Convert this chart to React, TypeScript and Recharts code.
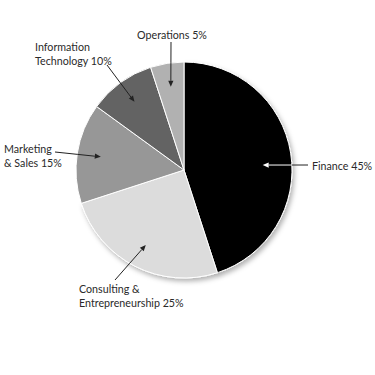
import { PieChart, Pie, Cell } from 'recharts';

const categories = ['Finance', 'Consulting & Entrepreneurship', 'Marketing & Sales', 'Information Technology', 'Operations'];
const shares = [45, 25, 15, 10, 5];
// how each label is broken into lines
const labelLines = [
  ['Finance 45%'],
  ['Consulting &', 'Entrepreneurship 25%'],
  ['Marketing', '& Sales 15%'],
  ['Information', 'Technology 10%'],
  ['Operations 5%'],
];

const COLORS = ['#000000', '#dcdcdc', '#979797', '#636363', '#b1b1b1'];
const ARROW_IN = ['#ffffff', '#222222', '#222222', '#222222', '#222222'];
// only the lower-right slices cast a visible shadow
const SHADOW = [true, true, false, false, false];
const FONT = 'Lato, "Open Sans", sans-serif';

// label placement relative to pie centre: arrow tail, text anchor, tip tweak
const LAYOUT = [
  { tail: [124, -5], text: [128, -5], anchor: 'start', rot: -5.4, r: 0.73 },
  { tail: [-69, 110], text: [-105, 118], anchor: 'start', rot: 0, r: 0.78 },
  { tail: [-129, -18], text: [-180, -22], anchor: 'start', rot: 0, r: 0.78 },
  { tail: [-77, -105], text: [-149, -124], anchor: 'start', rot: 0, r: 0.78 },
  { tail: [-13, -128], text: [-12, -136], anchor: 'middle', rot: 0, r: 0.78 },
];

const data = categories.map((name, i) => ({ name, value: shares[i] }));

const RAD = Math.PI / 180;

function ArrowLabel(props: any) {
  const { cx, cy, midAngle, outerRadius, index } = props;
  const lay = LAYOUT[index];
  const tipR = outerRadius * lay.r;
  const a = midAngle + lay.rot;
  const tx = cx + tipR * Math.cos(-a * RAD);
  const ty = cy + tipR * Math.sin(-a * RAD);
  const sx = cx + lay.tail[0];
  const sy = cy + lay.tail[1];

  // where the line crosses the pie edge
  let t = 0;
  for (let k = 0; k <= 200; k++) {
    const u = k / 200;
    const px = sx + (tx - sx) * u;
    const py = sy + (ty - sy) * u;
    if (Math.hypot(px - cx, py - cy) <= outerRadius) { t = u; break; }
  }
  const ex = sx + (tx - sx) * t;
  const ey = sy + (ty - sy) * t;

  const ang = Math.atan2(ty - sy, tx - sx);
  const hl = 6, hw = 2.6;
  const bx = tx - hl * Math.cos(ang);
  const by = ty - hl * Math.sin(ang);
  const head = `M${tx},${ty} L${bx + hw * Math.sin(ang)},${by - hw * Math.cos(ang)} L${bx - hw * Math.sin(ang)},${by + hw * Math.cos(ang)} Z`;

  const lines = labelLines[index];
  const x0 = cx + lay.text[0];
  const y0 = cy + lay.text[1];
  return (
    <g>
      <line x1={sx} y1={sy} x2={ex} y2={ey} stroke="#222" strokeWidth={1} />
      <line x1={ex} y1={ey} x2={bx} y2={by} stroke={ARROW_IN[index]} strokeWidth={1} />
      <path d={head} fill={ARROW_IN[index]} />
      <text x={x0} y={y0} textAnchor={lay.anchor} fontFamily={FONT} fontSize={10.7} fill="#2a2a2a">
        {lines.map((l, j) => (
          <tspan key={j} x={x0} y={y0 + j * 14.5} dominantBaseline="central">{l}</tspan>
        ))}
      </text>
    </g>
  );
}

export default function App() {
  return (
    <div style={{ position: 'absolute', left: 0, top: 0, width: 375, height: 375, background: '#fff' }}>
      <PieChart width={375} height={375} margin={{ top: 0, right: 0, bottom: 0, left: 0 }}>
        <defs>
          <filter id="pieShadow" x="-20%" y="-20%" width="140%" height="140%">
            <feDropShadow dx="2" dy="3" stdDeviation="2.5" floodColor="#000" floodOpacity="0.3" />
          </filter>
        </defs>
        <Pie
          data={data}
          dataKey="value"
          nameKey="name"
          cx={184}
          cy={170}
          outerRadius={108}
          startAngle={90}
          endAngle={-270}
          stroke="#ffffff"
          strokeWidth={1}
          label={ArrowLabel}
          labelLine={false}
          isAnimationActive={false}
        >
          {data.map((d, i) => (
            <Cell key={d.name} fill={COLORS[i]} filter={SHADOW[i] ? 'url(#pieShadow)' : undefined} />
          ))}
        </Pie>
      </PieChart>
    </div>
  );
}
